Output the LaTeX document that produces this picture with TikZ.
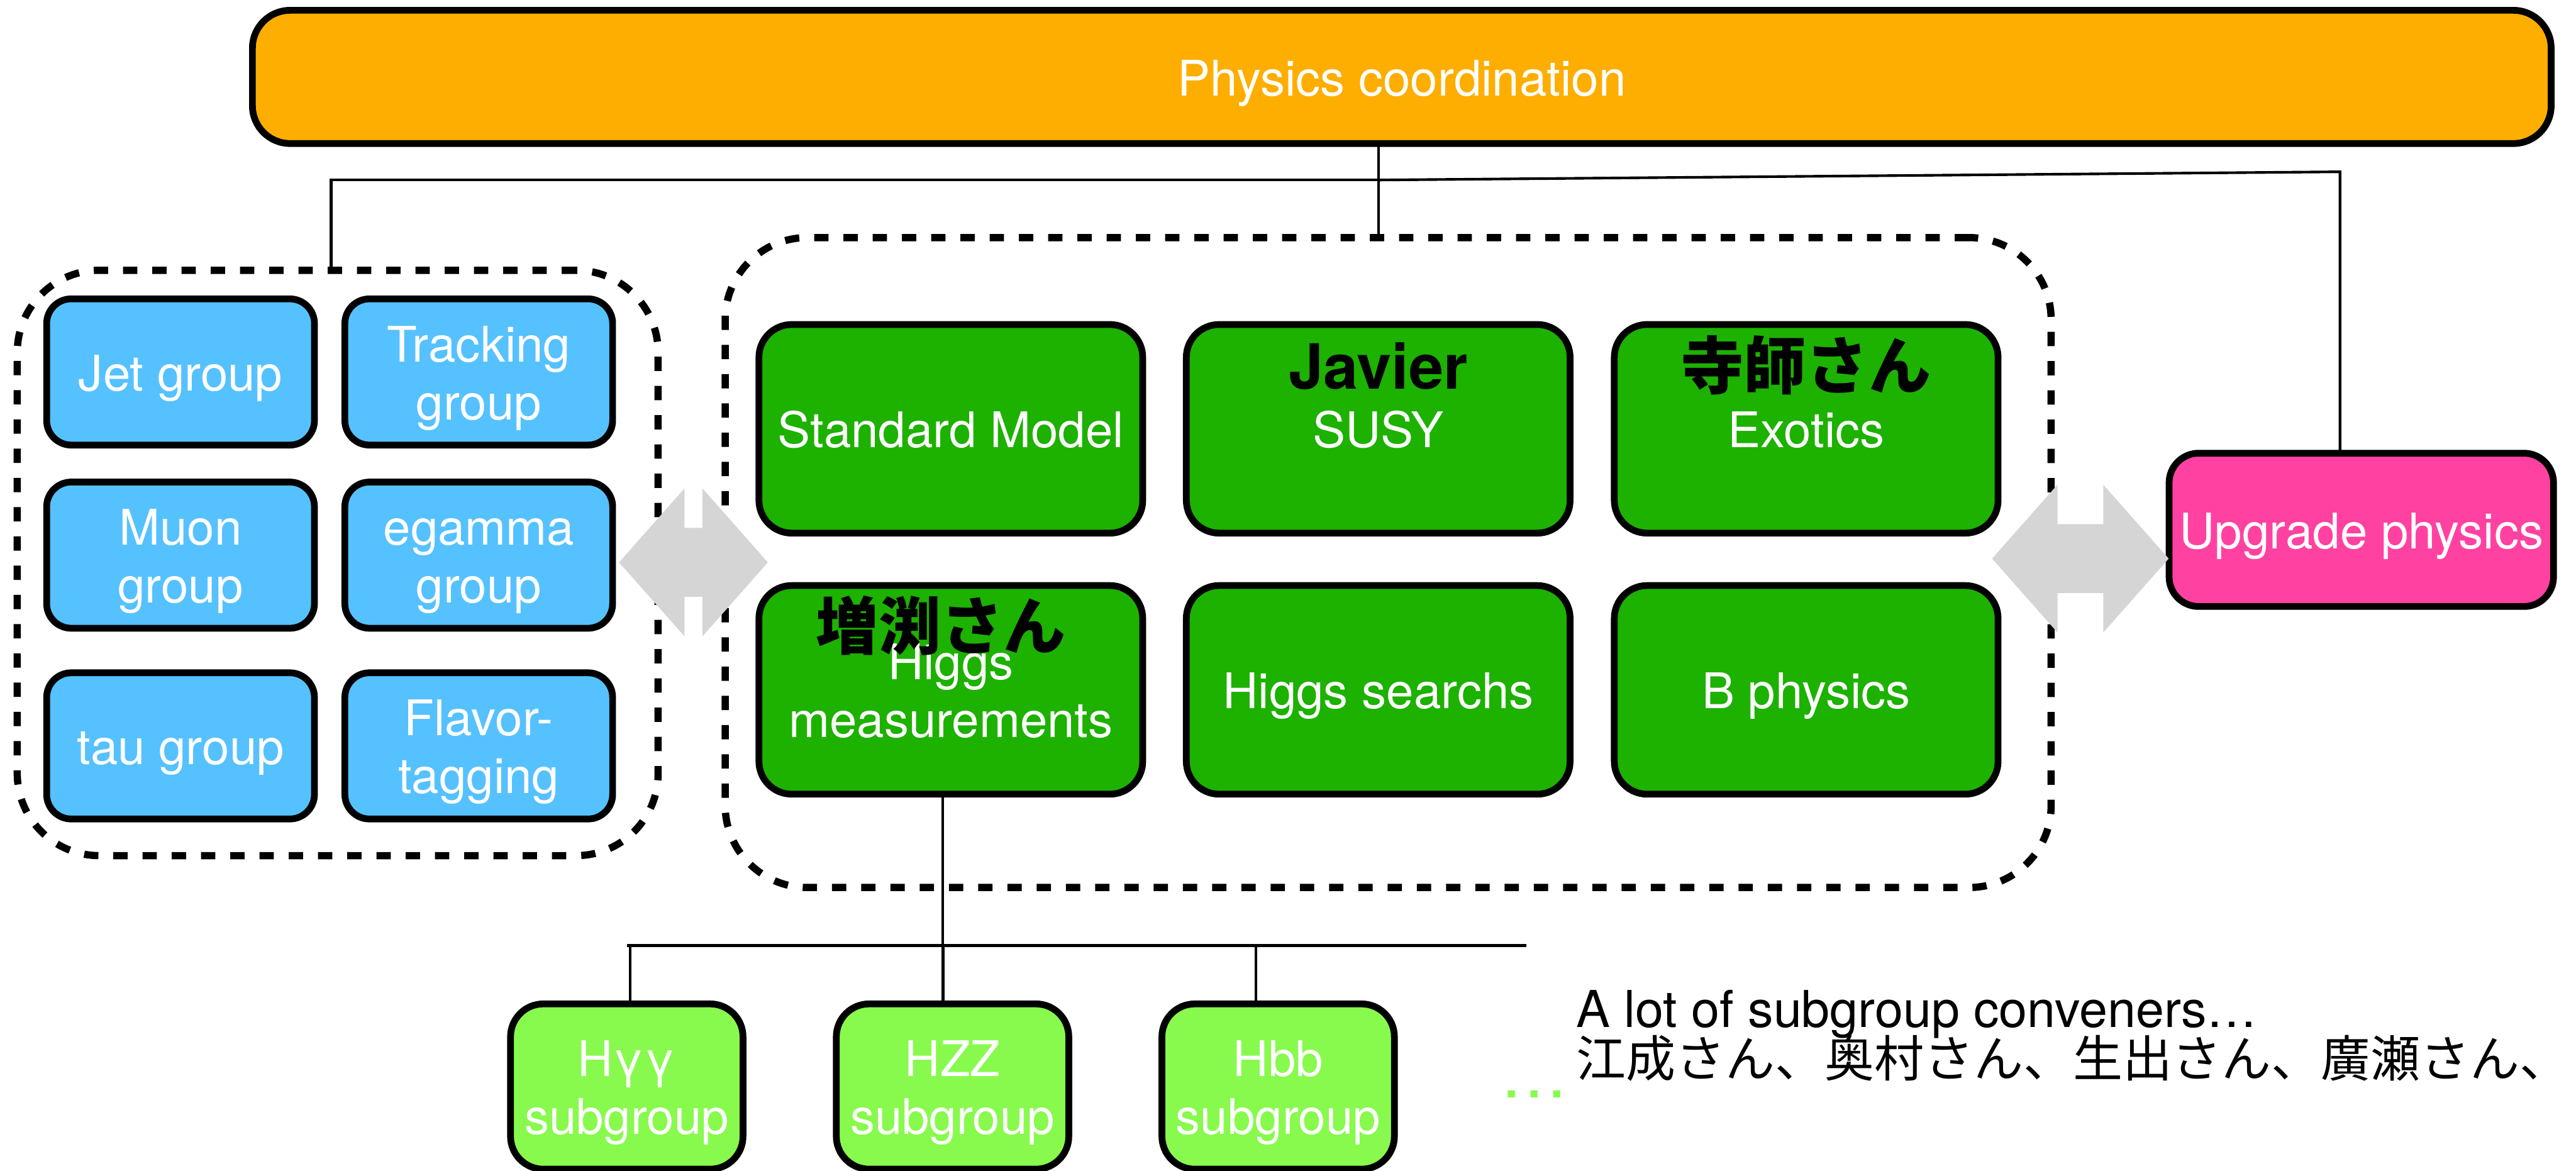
\documentclass[tikz,border=0pt]{standalone}
\usepackage{fontspec}
\setmainfont{TeX Gyre Heros}
\newfontfamily\cjk{Noto Sans CJK JP}
\usetikzlibrary{shapes.arrows}

\definecolor{coordorange}{HTML}{FEAE00}
\definecolor{groupblue}{HTML}{56C1FF}
\definecolor{physgreen}{HTML}{1DB100}
\definecolor{upgpink}{HTML}{FF42A1}
\definecolor{subgreen}{HTML}{88FA4E}
\definecolor{arrowgray}{HTML}{D6D5D5}

% struts so that the box text sits like in the slides
\newcommand{\boxtxt}[1]{\rule{0pt}{8.48pt}#1\rule[-2pt]{0pt}{0pt}}

\tikzset{
  box/.style={draw=black, line width=1.17pt, rounded corners=1.6mm, text=white,
    align=center, inner sep=0pt, outer sep=0pt, font=\fontsize{8.5}{10}\selectfont},
  groupbox/.style={box, fill=groupblue, minimum width=1.63cm, minimum height=0.89cm, rounded corners=1.5mm},
  physbox/.style={box, fill=physgreen, minimum width=2.336cm, minimum height=1.27cm, rounded corners=2mm},
  subbox/.style={box, fill=subgreen, minimum width=1.415cm, minimum height=1.006cm, rounded corners=2mm},
  dashbox/.style={draw=black, line width=1.25pt, dash pattern=on 0.87mm off 0.91mm,
    rounded corners=5mm, inner sep=0pt, outer sep=0pt},
  convener/.style={text=black, inner sep=0pt, font=\fontsize{10.8}{13}\selectfont\bfseries},
  twoway/.style={double arrow, fill=arrowgray, inner xsep=0pt, inner ysep=2.03mm,
    double arrow head extend=2.4mm, double arrow tip angle=97, outer sep=0pt},
  link/.style={line width=0.45pt},
  note/.style={inner sep=0pt, font=\fontsize{8.8}{10}\selectfont}
}

\begin{document}
\begin{tikzpicture}
  \useasboundingbox (0,0) rectangle (15.68,-7.127);

  % dashed containers
  \node[dashbox, minimum width=3.901cm, minimum height=3.563cm] (ldash) at (2.0555,-3.4265) {};
  \node[dashbox, minimum width=8.071cm, minimum height=3.956cm] (mdash) at (8.4495,-3.424) {};

  \node[box, fill=coordorange, minimum width=13.992cm, minimum height=0.811cm, rounded corners=2.3mm] (coord) at (8.5325,-0.468) {\boxtxt{Physics coordination}};

  % performance groups
  \foreach \name/\x/\y/\txt in {jet/1.099/-2.264/Jet group, trk/2.914/-2.264/{Tracking\\group},
      muon/1.099/-3.379/{Muon\\group}, egam/2.914/-3.379/{egamma\\group},
      tau/1.099/-4.540/tau group, ftag/2.914/-4.540/{Flavor-\\tagging}}
    \node[groupbox] (\name) at (\x,\y) {\boxtxt{\txt}};

  % physics groups
  \foreach \name/\x/\y/\txt in {sm/5.7875/-2.61/Standard Model, susy/8.389/-2.61/SUSY,
      exo/10.994/-2.61/Exotics, hmeas/5.7875/-4.199/{Higgs\\measurements},
      hsearch/8.389/-4.199/Higgs searchs, bphys/10.994/-4.199/B physics}
    \node[physbox] (\name) at (\x,\y) {\boxtxt{\txt}};

  \node[box, fill=upgpink, minimum width=2.34cm, minimum height=0.933cm, rounded corners=1.8mm] (upg) at (14.373,-3.225) {\boxtxt{Upgrade physics}};

  \node[convener, anchor=base] (javier) at ([yshift=-3.92mm]susy.north) {Javier};
  \node[convener, anchor=base] (terashi) at ([yshift=-3.92mm]exo.north) {\cjk 寺師さん};
  \node[convener, anchor=base] (masubuchi) at ([xshift=-0.6mm,yshift=-3.9mm]hmeas.north) {\cjk 増渕さん};

  \node[twoway, minimum height=9.06mm] (larrow) at (4.221,-3.423) {};
  \node[twoway, minimum height=10.75mm] (rarrow) at (12.663,-3.40) {};

  % coordination tree
  \coordinate (hub) at ([xshift=-1.4mm]coord.south);
  \coordinate (lsplit) at ([yshift=-2.22mm]hub);
  \coordinate (rsplit) at ([yshift=-1.72mm]hub);
  \coordinate (lfoot) at ([xshift=-0.4mm]ldash.north);
  \coordinate (ufoot) at ([xshift=-1.3mm]upg.north);
  \coordinate (rknee) at (rsplit -| ufoot);
  \draw[link] (hub) -- (hub |- mdash.north);
  \draw[link] (lsplit) -| (lfoot);
  \draw[link] (lsplit) -- (rknee) -- (ufoot);

  % Higgs subgroups
  \node[subbox] (hyy) at (3.815,-6.6135) {\boxtxt{Hγγ\\subgroup}};
  \node[subbox] (hzz) at (5.798,-6.6135) {\boxtxt{HZZ\\subgroup}};
  \node[subbox] (hbb) at (7.78,-6.6135) {\boxtxt{Hbb\\subgroup}};

  \coordinate (bus west) at (3.816,-5.755);
  \coordinate (bus east) at (9.29,-5.755);
  \draw[link, line width=0.55pt] (bus west) -- (bus east);
  \coordinate (hfoot) at ([xshift=-0.48mm]hmeas.south);
  \draw[link] (hfoot) -- (hfoot |- bus west);
  \foreach \name/\dx in {hyy/0.2mm, hzz/-0.58mm, hbb/-1.35mm} {
    \coordinate (\name top) at ([xshift=\dx]\name.north);
    \draw[link] (\name top) -- (\name top |- bus west);
  }

  \node[note, anchor=base west] (conv) at (9.588,-6.254) {A lot of subgroup conveners…};
  \node[note, anchor=base west, font=\fontsize{8.6}{10}\selectfont] (convjp) at ([yshift=-3.0mm]conv.base west) {\cjk 江成さん、奥村さん、生出さん、廣瀬さん、};
  \node[note, anchor=base west, text=subgreen, font=\fontsize{11.8}{14}\selectfont] (more) at (9.124,-6.68) {…};
\end{tikzpicture}
\end{document}
